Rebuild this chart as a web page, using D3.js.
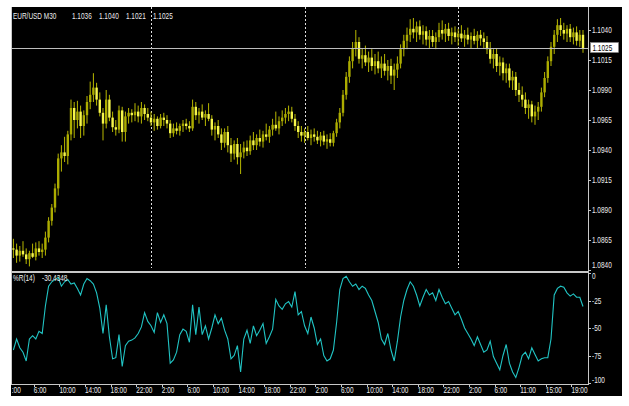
<!DOCTYPE html>
<html><head><meta charset="utf-8">
<script src="https://cdn.jsdelivr.net/npm/d3@7"></script>
<style>html,body{margin:0;padding:0;background:#fff;}svg{display:block;}text{font-family:"Liberation Sans",Arial,sans-serif;}</style>
</head><body><svg id="c" width="629" height="406"></svg>
<script>
const symbolLabel = "EUR/USD M30";
const lastOHLC = ["1.1036", "1.1040", "1.1021", "1.1025"];
const open = [1.0858,1.0857,1.0852,1.0856,1.0853,1.0849,1.0854,1.0851,1.0858,1.0855,1.0857,1.0867,1.0881,1.0892,1.0908,1.0933,1.0938,1.0935,1.0953,1.0975,1.0965,1.0972,1.0960,1.0969,1.0980,1.0986,1.0992,1.0982,1.0971,1.0962,1.0982,1.0967,1.0959,1.0957,1.0973,1.0955,1.0968,1.0971,1.0969,1.0972,1.0968,1.0975,1.0970,1.0967,1.0963,1.0966,1.0960,1.0967,1.0965,1.0962,1.0954,1.0958,1.0956,1.0960,1.0962,1.0960,1.0958,1.0976,1.0969,1.0972,1.0967,1.0970,1.0966,1.0957,1.0960,1.0953,1.0946,1.0955,1.0944,1.0937,1.0945,1.0934,1.0938,1.0942,1.0939,1.0948,1.0944,1.0950,1.0947,1.0953,1.0951,1.0957,1.0961,1.0958,1.0964,1.0967,1.0970,1.0972,1.0966,1.0960,1.0955,1.0952,1.0955,1.0950,1.0953,1.0951,1.0948,1.0952,1.0947,1.0949,1.0946,1.0954,1.0963,1.0971,1.0986,1.1001,1.1014,1.1025,1.1030,1.1016,1.1019,1.1013,1.1017,1.1010,1.1014,1.1008,1.1012,1.1006,1.1010,1.1002,1.1007,1.1012,1.1024,1.1031,1.1036,1.1041,1.1038,1.1043,1.1036,1.1039,1.1032,1.1035,1.1030,1.1034,1.1040,1.1037,1.1041,1.1035,1.1038,1.1034,1.1037,1.1033,1.1036,1.1032,1.1035,1.1031,1.1036,1.1033,1.1030,1.1024,1.1016,1.1020,1.1010,1.1013,1.1004,1.1008,1.0998,1.1001,1.0990,1.0986,1.0982,1.0975,1.0978,1.0968,1.0972,1.0976,1.0988,1.1000,1.1014,1.1026,1.1036,1.1044,1.1040,1.1037,1.1041,1.1034,1.1038,1.1031,1.1036];
const high = [1.0866,1.0862,1.0860,1.0864,1.0858,1.0856,1.0862,1.0863,1.0864,1.0862,1.0872,1.0884,1.0895,1.0912,1.0937,1.0944,1.0951,1.0956,1.0982,1.0980,1.0981,1.0977,1.0973,1.0985,1.0997,1.1004,1.0996,1.0988,1.0975,1.0990,1.0986,1.0972,1.0965,1.0977,1.0976,1.0972,1.0975,1.0974,1.0979,1.0977,1.0980,1.0978,1.0975,1.0972,1.0970,1.0968,1.0970,1.0971,1.0969,1.0965,1.0962,1.0963,1.0962,1.0965,1.0966,1.0964,1.0982,1.0980,1.0975,1.0978,1.0973,1.0979,1.0969,1.0963,1.0965,1.0958,1.0958,1.0960,1.0950,1.0948,1.0950,1.0945,1.0947,1.0948,1.0952,1.0955,1.0953,1.0957,1.0956,1.0962,1.0960,1.0966,1.0972,1.0968,1.0973,1.0975,1.0977,1.0976,1.0970,1.0964,1.0960,1.0958,1.0960,1.0957,1.0958,1.0956,1.0955,1.0956,1.0953,1.0954,1.0956,1.0966,1.0975,1.0990,1.1005,1.1018,1.1030,1.1040,1.1034,1.1025,1.1027,1.1022,1.1024,1.1020,1.1022,1.1018,1.1020,1.1015,1.1016,1.1012,1.1018,1.1028,1.1036,1.1042,1.1049,1.1050,1.1047,1.1048,1.1044,1.1043,1.1040,1.1040,1.1038,1.1046,1.1048,1.1045,1.1046,1.1042,1.1043,1.1041,1.1044,1.1040,1.1042,1.1038,1.1041,1.1039,1.1040,1.1038,1.1035,1.1030,1.1024,1.1025,1.1018,1.1017,1.1012,1.1012,1.1006,1.1005,1.0996,1.0993,1.0988,1.0982,1.0981,1.0977,1.0980,1.0992,1.1005,1.1018,1.1030,1.1040,1.1049,1.1050,1.1046,1.1044,1.1045,1.1042,1.1043,1.1040,1.1040];
const low = [1.0850,1.0846,1.0847,1.0851,1.0845,1.0843,1.0850,1.0848,1.0852,1.0850,1.0852,1.0863,1.0877,1.0888,1.0902,1.0922,1.0930,1.0928,1.0948,1.0950,1.0958,1.0950,1.0952,1.0962,1.0974,1.0980,1.0977,1.0968,1.0948,1.0958,1.0964,1.0955,1.0952,1.0954,1.0947,1.0947,1.0962,1.0963,1.0964,1.0963,1.0962,1.0965,1.0964,1.0960,1.0956,1.0957,1.0958,1.0960,1.0958,1.0950,1.0951,1.0953,1.0952,1.0955,1.0957,1.0955,1.0956,1.0965,1.0962,1.0965,1.0960,1.0964,1.0952,1.0948,1.0950,1.0940,1.0942,1.0938,1.0930,1.0932,1.0928,1.0920,1.0933,1.0935,1.0936,1.0940,1.0940,1.0943,1.0942,1.0948,1.0946,1.0952,1.0956,1.0953,1.0960,1.0962,1.0964,1.0963,1.0956,1.0950,1.0947,1.0946,1.0948,1.0944,1.0947,1.0945,1.0943,1.0944,1.0941,1.0943,1.0943,1.0951,1.0958,1.0968,1.0982,1.0996,1.1008,1.1018,1.1012,1.1008,1.1010,1.1005,1.1006,1.1003,1.1004,1.1000,1.1002,1.0998,1.0995,1.0990,1.1000,1.1008,1.1018,1.1024,1.1030,1.1033,1.1030,1.1032,1.1028,1.1027,1.1025,1.1026,1.1024,1.1030,1.1032,1.1030,1.1031,1.1028,1.1030,1.1027,1.1030,1.1026,1.1028,1.1025,1.1028,1.1025,1.1027,1.1025,1.1020,1.1012,1.1008,1.1005,1.1002,1.0998,1.0996,1.0992,1.0990,1.0985,1.0980,1.0976,1.0970,1.0966,1.0963,1.0961,1.0965,1.0972,1.0984,1.0996,1.1010,1.1020,1.1030,1.1035,1.1032,1.1030,1.1030,1.1028,1.1027,1.1026,1.1021];
const close = [1.0857,1.0852,1.0856,1.0853,1.0849,1.0854,1.0851,1.0858,1.0855,1.0857,1.0867,1.0881,1.0892,1.0908,1.0933,1.0938,1.0935,1.0953,1.0975,1.0965,1.0972,1.0960,1.0969,1.0980,1.0986,1.0992,1.0982,1.0971,1.0962,1.0982,1.0967,1.0959,1.0957,1.0973,1.0955,1.0968,1.0971,1.0969,1.0972,1.0968,1.0975,1.0970,1.0967,1.0963,1.0966,1.0960,1.0967,1.0965,1.0962,1.0954,1.0958,1.0956,1.0960,1.0962,1.0960,1.0958,1.0976,1.0969,1.0972,1.0967,1.0970,1.0966,1.0957,1.0960,1.0953,1.0946,1.0955,1.0944,1.0937,1.0945,1.0934,1.0938,1.0942,1.0939,1.0948,1.0944,1.0950,1.0947,1.0953,1.0951,1.0957,1.0961,1.0958,1.0964,1.0967,1.0970,1.0972,1.0966,1.0960,1.0955,1.0952,1.0955,1.0950,1.0953,1.0951,1.0948,1.0952,1.0947,1.0949,1.0946,1.0954,1.0963,1.0971,1.0986,1.1001,1.1014,1.1025,1.1030,1.1016,1.1019,1.1013,1.1017,1.1010,1.1014,1.1008,1.1012,1.1006,1.1010,1.1002,1.1007,1.1012,1.1024,1.1031,1.1036,1.1041,1.1038,1.1043,1.1036,1.1039,1.1032,1.1035,1.1030,1.1034,1.1040,1.1037,1.1041,1.1035,1.1038,1.1034,1.1037,1.1033,1.1036,1.1032,1.1035,1.1031,1.1036,1.1033,1.1030,1.1024,1.1016,1.1020,1.1010,1.1013,1.1004,1.1008,1.0998,1.1001,1.0990,1.0986,1.0982,1.0975,1.0978,1.0968,1.0972,1.0976,1.0988,1.1000,1.1014,1.1026,1.1036,1.1044,1.1040,1.1037,1.1041,1.1034,1.1038,1.1031,1.1036,1.1025];
const wprLabel = "%R(14)";
const wprValueLabel = "-30.4348";
const wpr = [-70,-60,-68,-72,-80,-60,-57,-60,-53,-55,-30,-12,-8,-6,-4,-12,-8,-6,-10,-9,-14,-20,-10,-5,-7,-10,-18,-32,-55,-29,-58,-78,-77,-56,-85,-66,-62,-61,-59,-55,-49,-36,-44,-48,-54,-36,-45,-38,-46,-82,-79,-72,-56,-51,-53,-63,-29,-56,-31,-56,-48,-60,-50,-38,-46,-41,-52,-60,-78,-75,-66,-90,-60,-52,-64,-48,-57,-52,-46,-64,-58,-51,-24,-30,-33,-28,-26,-31,-17,-38,-35,-48,-55,-40,-50,-65,-60,-75,-80,-78,-70,-45,-15,-5,-3,-8,-12,-10,-15,-12,-14,-20,-25,-35,-45,-60,-65,-55,-70,-80,-62,-40,-25,-15,-8,-12,-20,-30,-22,-15,-20,-18,-25,-15,-22,-28,-26,-32,-38,-35,-42,-50,-55,-60,-66,-58,-65,-72,-70,-62,-76,-82,-88,-75,-65,-82,-90,-95,-86,-75,-72,-78,-68,-74,-80,-78,-77,-77,-60,-20,-14,-12,-13,-18,-21,-19,-22,-22,-30.4348];
const priceTicks = [1.1040,1.1015,1.0990,1.0965,1.0940,1.0915,1.0890,1.0865,1.0840];
const wprTicks = [0,-25,-50,-75,-100];
const timeLabels = ["2:00","6:00","10:00","14:00","18:00","22:00","2:00","6:00","10:00","14:00","18:00","22:00","2:00","6:00","10:00","14:00","18:00","22:00","2:00","6:00","11:00","15:00","19:00"];
const timeLabelBars = [-1,7,15,23,31,39,47,55,63,71,79,87,95,103,111,119,127,135,143,151,159,167,175];
const daySeparatorBars = [43,91,139];
const currentPrice = 1.1025;

const svg = d3.select("#c");
const L = 12, R = 588, T = 7, MB = 271, IT = 273, IB = 384;
const FS = 8.5, SX = 0.76;
const n = close.length;
const x = d3.scaleLinear().domain([0, n - 1]).range([13.4, 583]);
const y = d3.scaleLinear().domain([1.0840, 1.1040]).range([270, 30]);
const yi = d3.scaleLinear().domain([-100, 0]).range([383, 273]);

function txt(g, px, py, s, fill, anchor) {
  const t = g.append("text").attr("transform", `translate(${px},${py}) scale(${SX},1)`)
    .attr("font-size", FS).attr("fill", fill || "#ececec").text(s);
  if (anchor) t.attr("text-anchor", anchor);
  return t;
}

svg.append("rect").attr("x", 0).attr("y", 0).attr("width", 629).attr("height", 406).attr("fill", "#fff");
svg.append("rect").attr("x", 11).attr("y", 7).attr("width", 611).attr("height", 389).attr("fill", "#000");

const defs = svg.append("defs");
defs.append("clipPath").attr("id", "cm").append("rect").attr("x", L).attr("y", T).attr("width", R - L).attr("height", MB - T);
defs.append("clipPath").attr("id", "ci").append("rect").attr("x", L).attr("y", IT).attr("width", R - L).attr("height", IB - IT);
defs.append("clipPath").attr("id", "cx").append("rect").attr("x", L).attr("y", IB).attr("width", R - L + 40).attr("height", 12);

// day separators
svg.append("g").selectAll("line").data(daySeparatorBars).join("line")
  .attr("x1", d => Math.round(x(d)) + 0.5).attr("x2", d => Math.round(x(d)) + 0.5)
  .attr("y1", T).attr("y2", 268).attr("stroke", "#e0e0e0").attr("stroke-width", 1).attr("stroke-dasharray", "2,2");

// candles
const cg = svg.append("g").attr("clip-path", "url(#cm)");
const idx = d3.range(n);
cg.selectAll("line.w").data(idx).join("line").attr("class", "w")
  .attr("x1", i => x(i)).attr("x2", i => x(i)).attr("y1", i => y(high[i])).attr("y2", i => y(low[i]))
  .attr("stroke", "#b8b800").attr("stroke-width", 1);
cg.selectAll("rect.b").data(idx).join("rect").attr("class", "b")
  .attr("x", i => x(i) - 1.2).attr("width", 2.4)
  .attr("y", i => y(Math.max(open[i], close[i])))
  .attr("height", i => Math.max(1, Math.abs(y(open[i]) - y(close[i]))))
  .attr("fill", i => close[i] >= open[i] ? "#acac00" : "#f6f64c");

// current price line
svg.append("line").attr("x1", L).attr("x2", R).attr("y1", Math.round(y(currentPrice)) + 0.5).attr("y2", Math.round(y(currentPrice)) + 0.5)
  .attr("stroke", "#bdbdbd").attr("stroke-width", 1);

// WPR line
svg.append("g").attr("clip-path", "url(#ci)").append("path").datum(wpr)
  .attr("d", d3.line().x((d, i) => x(i)).y(d => yi(d)))
  .attr("fill", "none").attr("stroke", "#21c4c4").attr("stroke-width", 1.1);

// borders
const bc = "#c8c8c8";
svg.append("line").attr("x1", 11.5).attr("x2", 11.5).attr("y1", T).attr("y2", IB).attr("stroke", bc);
svg.append("line").attr("x1", R + 0.5).attr("x2", R + 0.5).attr("y1", T).attr("y2", IB + 1).attr("stroke", bc);
svg.append("rect").attr("x", 11).attr("y", 271).attr("width", R - 11 + 1).attr("height", 2).attr("fill", bc);
svg.append("line").attr("x1", 11).attr("x2", R + 1).attr("y1", IB + 0.5).attr("y2", IB + 0.5).attr("stroke", bc);

// price axis
const pa = svg.append("g");
priceTicks.forEach(p => {
  const py = y(p);
  pa.append("line").attr("x1", R).attr("x2", R + 3).attr("y1", Math.round(py) + 0.5).attr("y2", Math.round(py) + 0.5).attr("stroke", bc);
  const ly = Math.min(Math.max(py, T + 5), MB - 6);
  txt(pa, R + 4, ly + 3, p.toFixed(4));
});
wprTicks.forEach(v => {
  const py = yi(v);
  pa.append("line").attr("x1", R).attr("x2", R + 3).attr("y1", Math.round(py) + 0.5).attr("y2", Math.round(py) + 0.5).attr("stroke", bc);
  const ly = Math.min(Math.max(py, IT + 3), IB - 4);
  txt(pa, R + 4, ly + 3, String(v));
});

// current price box
const by = y(currentPrice);
svg.append("rect").attr("x", 590.5).attr("y", by - 5.5).attr("width", 28).attr("height", 10).attr("fill", "#fff").attr("stroke", "#888").attr("stroke-width", 0.6);
txt(svg, 592.5, by + 3, currentPrice.toFixed(4), "#000");

// time axis
const ta = svg.append("g").attr("clip-path", "url(#cx)");
timeLabels.forEach((s, k) => {
  const px = x(timeLabelBars[k]);
  ta.append("line").attr("x1", Math.round(px) - 1.5).attr("x2", Math.round(px) - 1.5).attr("y1", IB).attr("y2", IB + 3).attr("stroke", bc);
  txt(ta, px - 2, 393, s);
});

// headers
txt(svg, 13, 19, symbolLabel);
const hx = [72, 99, 126, 153];
lastOHLC.forEach((s, k) => txt(svg, hx[k], 19, s));
txt(svg, 13, 281, wprLabel);
txt(svg, 42, 281, wprValueLabel);
</script></body></html>
